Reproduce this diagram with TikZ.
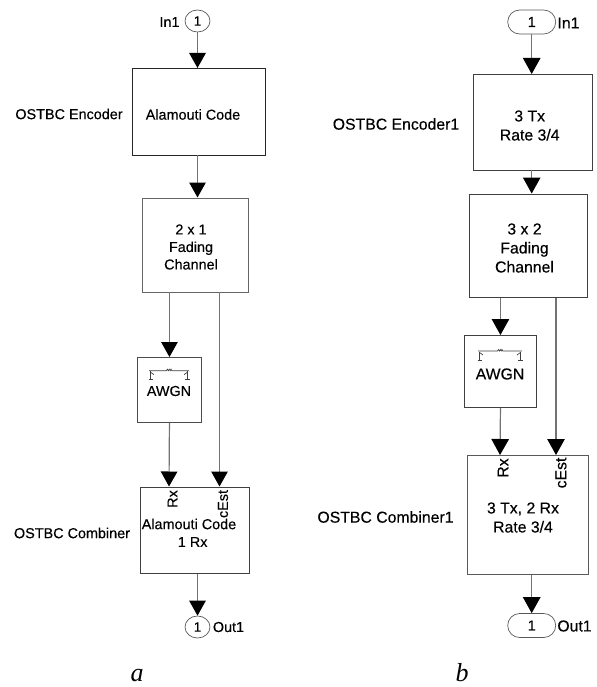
\documentclass[tikz,border=0pt]{standalone}
\usepackage{fontspec}
\setmainfont{Liberation Sans}[FakeBold=0.3]
\newfontfamily\capfont{Liberation Serif}
\usetikzlibrary{arrows.meta,shapes.geometric,shapes.misc}
\tikzset{
  x=1bp,y=-1bp,
  txta/.style={inner sep=0pt,align=center,font=\fontsize{14.4bp}{17.5bp}\selectfont},
  txtb/.style={inner sep=0pt,align=center,font=\fontsize{15.8bp}{19bp}\selectfont},
  porta/.style={draw=black!65,line width=0.7bp,ellipse,inner sep=0pt,minimum width=25bp,minimum height=22bp,font=\fontsize{13.5bp}{15bp}\selectfont},
  portb/.style={draw=black!65,line width=0.7bp,rounded rectangle,inner sep=0pt,minimum width=48bp,minimum height=24bp,font=\fontsize{14.5bp}{16bp}\selectfont},
  wirea/.style={draw=black!55,line width=1.2bp,-{Triangle[length=15bp,width=16.5bp,black]}},
  wireb/.style={draw=black!55,line width=1.2bp,-{Triangle[length=16bp,width=17.5bp,black]}},
  captxt/.style={inner sep=0pt,anchor=base,font=\capfont\itshape\fontsize{26bp}{29bp}\selectfont},
  iconline/.style={draw=black!75,line width=0.7bp},
}
\newcommand{\blockat}[6]{% name, x0, y0, x1, y1, grey
  \node[draw=black!#6,line width=0.9bp,inner sep=0pt,minimum width=#4bp-#2bp,minimum height=#5bp-#3bp,anchor=north west] (#1) at (#2,#3) {};
}
\newcommand{\noiseicon}[3]{% cx, y, half width
  \begin{scope}[shift={(#1,#2)}]
    \draw[iconline] (-#3,0) -- (-2.5,0) -- (-1.7,-1.5) -- (-0.6,0) -- (0.3,-1.5) -- (1.2,0) -- (2,-1.5) -- (2.8,0) -- (#3,0);
    \draw[iconline] (-#3+1.5,0.5) -- (-#3+1.5,9);
    \draw[iconline] (-#3-0.5,9) -- (-#3+4,9);
    \draw[iconline] (-#3+1.5,1.5) -- (-#3+5,4);
    \draw[iconline] (#3-1.5,0.5) -- (#3-1.5,9);
    \draw[iconline] (#3-4,9) -- (#3+0.5,9);
    \draw[iconline] (#3-1.5,1.5) -- (#3-5,4);
  \end{scope}
}
\begin{document}
\begin{tikzpicture}
\useasboundingbox (0,0) rectangle (597,687);
% --- a ---
\blockat{aenc}{131.5}{68}{264.5}{154.5}{85}
\blockat{afad}{141.5}{197.5}{247.5}{291.5}{60}
\blockat{aawg}{137}{357}{201}{422}{70}
\blockat{acmb}{140}{486.5}{248.5}{573}{75}
\node[porta] (ain) at (197.5,21) {1};
\node[porta] (aout) at (197.5,627) {1};
\coordinate (ace) at (219.5,486.5);
\coordinate (arx) at (169,486.5);
\node[txta] (ainl) at (169.5,22) {In1};
\node[txta] (aoutl) at (228.5,627) {Out1};
\node[txta] (aencl) at (69,114) {OSTBC Encoder};
\node[txta] (aenct) at (193,114.5) {Alamouti Code};
\node[txta] (afadt) at (191,247) {2 x 1\\Fading\\Channel};
\node[txta] (aawgt) at (169,391) {AWGN};
\node[txta,rotate=90] (arxt) at (172.5,499) {Rx};
\node[txta,rotate=90] (acet) at (223,504) {cEst};
\node[txta] (acmbl) at (72,533) {OSTBC Combiner};
\node[txta] (acmbt) at (189,524) {Alamouti Code};
\node[txta] (acmbu) at (192.7,542) {1 Rx};
\noiseicon{169}{370.7}{20}
\draw[wirea] (ain.south) -- (ain.south |- aenc.north);
\draw[wirea] (ain.south |- aenc.south) -- (ain.south |- afad.north);
\draw[wirea] (afad.south -| aawg.north) -- (aawg.north);
\draw[wirea] (aawg.south) -- (arx);
\draw[wirea] (afad.south -| ace) -- (ace);
\draw[wirea] (aout.north |- acmb.south) -- (aout.north);
\node[captxt] (acap) at (137,681) {a};
% --- b ---
\blockat{benc}{472.5}{74}{591.5}{169.5}{75}
\blockat{bfad}{469}{193.5}{587}{297}{75}
\blockat{bawg}{464}{335}{536}{407}{75}
\blockat{bcmb}{467}{455}{588}{574}{65}
\node[portb] (bin) at (531.7,22) {1};
\node[portb] (bout) at (531.7,625.5) {1};
\coordinate (bce) at (556,455);
\coordinate (brx) at (500,455);
\node[txtb] (binl) at (568.5,23) {In1};
\node[txtb] (boutl) at (574.5,626) {Out1};
\node[txtb] (bencl) at (396,124) {OSTBC Encoder1};
\node[txtb] (benct) at (529.7,125.5) {3 Tx\\Rate 3/4};
\node[txtb] (bfadt) at (524.5,248) {3 x 2\\Fading\\Channel};
\node[txtb] (bawgt) at (500,374) {AWGN};
\node[txtb,rotate=90] (brxt) at (503,468) {Rx};
\node[txtb,rotate=90] (bcet) at (561,473) {cEst};
\node[txtb] (bcmbl) at (385.5,517) {OSTBC Combiner1};
\node[txtb] (bcmbt) at (523,517.5) {3 Tx, 2 Rx\\Rate 3/4};
\noiseicon{500}{351}{22}
\draw[wireb] (bin.south) -- (bin.south |- benc.north);
\draw[wireb] (bin.south |- benc.south) -- (bin.south |- bfad.north);
\draw[wireb] (bfad.south -| bawg.north) -- (bawg.north);
\draw[wireb] (bawg.south) -- (brx);
\draw[wireb] (bfad.south -| bce) -- (bce);
\draw[wireb] (bout.north |- bcmb.south) -- (bout.north);
\node[captxt] (bcap) at (462,681) {b};
\end{tikzpicture}
\end{document}
